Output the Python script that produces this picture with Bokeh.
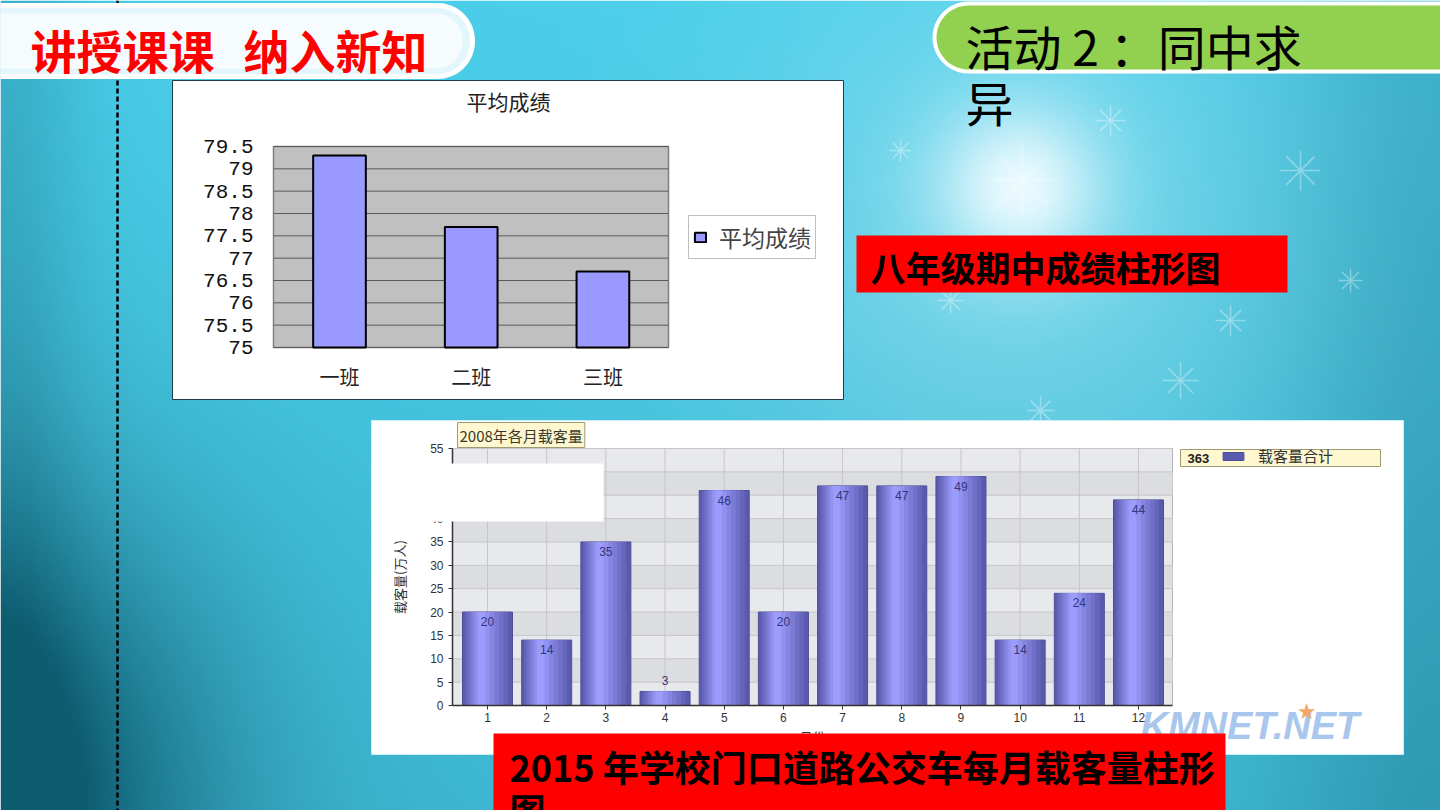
import numpy as np
from bokeh.plotting import figure
from bokeh.models import (Range1d, FixedTicker, Legend, LegendItem, LinearAxis,
                          ColumnDataSource, Label)
from bokeh.transform import dodge
from bokeh.core.properties import value
from bokeh.embed import file_html
from bokeh.resources import INLINE

CJK = "Noto Sans CJK SC"

# ---------------- data ----------------
banner_left = ["讲授课课", "纳入新知"]
banner_right = "活动 2 ：同中求"
banner_right_2 = "异"
caption_1 = "八年级期中成绩柱形图"
caption_2 = "2015 年学校门口道路公交车每月载客量柱形"
caption_2b = "图"

chart1_title = "平均成绩"
series1_name = "平均成绩"
classes = ["一班", "二班", "三班"]
avg_scores = [79.3, 77.7, 76.7]
score_ticks = [75, 75.5, 76, 76.5, 77, 77.5, 78, 78.5, 79, 79.5]
score_tick_labels = ["75", "75.5", "76", "76.5", "77", "77.5", "78", "78.5", "79", "79.5"]

chart2_title = "2008年各月载客量"
series2_name = "载客量合计"
months = [1, 2, 3, 4, 5, 6, 7, 8, 9, 10, 11, 12]
riders = [20, 14, 35, 3, 46, 20, 47, 47, 49, 14, 24, 44]
rider_ticks = [0, 5, 10, 15, 20, 25, 30, 35, 40, 45, 50, 55]
y2_label = "载客量(万人)"
x2_label = "月份"
watermark = "KMNET.NET"

# ---------------- page canvas (pixel coordinates of the slide) ----------------
X0, X1, Y0, Y1 = 0, 1440, 0, 810
p = figure(width=X1 - X0, height=Y1 - Y0, x_range=Range1d(X0, X1), y_range=Range1d(Y1, Y0),
           toolbar_location=None, output_backend="svg", min_border=0,
           x_axis_location=None, y_axis_location=None, outline_line_color=None)
p.xgrid.visible = False
p.ygrid.visible = False


def axis_range(px_a, val_a, px_b, val_b, lo_px, hi_px):
    k = (val_b - val_a) / (px_b - px_a)
    return Range1d(start=val_a + (lo_px - px_a) * k, end=val_a + (hi_px - px_a) * k)


def rounded(x0, y0, x1, y1, r, n=14):
    pts = []
    corners = [(x1 - r, y0 + r, -90, 0), (x1 - r, y1 - r, 0, 90),
               (x0 + r, y1 - r, 90, 180), (x0 + r, y0 + r, 180, 270)]
    for cx, cy, a0, a1 in corners:
        for t in np.linspace(np.radians(a0), np.radians(a1), n):
            pts.append((cx + r * np.cos(t), cy + r * np.sin(t)))
    return [q[0] for q in pts], [q[1] for q in pts]


# chart placement on the slide (pixels)
C1_BOX = (172, 843, 80, 399)
C1_PLOT = (273, 668, 146, 347)
C2_BOX = (371, 1403, 420, 754)
C2_PLOT = (452, 1172, 448, 705)

idx = list(range(len(classes)))
p.extra_x_ranges = {
    "c1x": axis_range(339, 0, 470.7, 1, X0, X1),
    "c2x": axis_range(487, months[0], 1138, months[-1], X0, X1),
}
p.extra_y_ranges = {
    "c1y": axis_range(C1_PLOT[3], 75, C1_PLOT[2], 79.5, Y1, Y0),
    "c2y": axis_range(C2_PLOT[3], 0, C2_PLOT[2], 55, Y1, Y0),
}


def c1x(px):
    r = p.extra_x_ranges["c1x"]
    return r.start + (px - X0) * (r.end - r.start) / (X1 - X0)


def c2x(px):
    r = p.extra_x_ranges["c2x"]
    return r.start + (px - X0) * (r.end - r.start) / (X1 - X0)


# ---------------- background ----------------
nx, ny = 360, 203
gx = np.linspace(0, 1440, nx)
gy = np.linspace(0, 810, ny)
GX, GY = np.meshgrid(gx, gy)
light = np.array([74.0, 206.0, 233.0])
dark = np.array([14.0, 92.0, 112.0])
d = (0.85 * np.exp(-(((GX + 10) / 230) ** 2 + ((GY - 800) / 300) ** 2))
     + 0.2 * (GY / 810)
     + 0.25 * np.exp(-((GX - 1440) / 160) ** 2)
     + 0.25 * np.exp(-(GX / 80) ** 2))
d = np.clip(d, 0, 1)[..., None]
col = light * (1 - d) + dark * d
g = (0.7 * np.exp(-(((GX - 1020) ** 2 + (GY - 185) ** 2) / (2 * 60 ** 2)))
     + 0.3 * np.exp(-(((GX - 1010) ** 2 + (GY - 230) ** 2) / (2 * 200 ** 2))))
g = np.clip(g, 0, 1)[..., None]
col = col * (1 - g) + np.array([235.0, 250.0, 255.0]) * g
img = np.empty((ny, nx), dtype=np.uint32)
view = img.view(dtype=np.uint8).reshape((ny, nx, 4))
view[..., 0:3] = np.clip(col, 0, 255).astype(np.uint8)
view[..., 3] = 255
p.image_rgba(image=[img], x=0, y=0, dw=1440, dh=810)

p.scatter(x=[1022, 1300, 1110, 1180, 1040, 950, 1230, 1350, 900],
          y=[180, 170, 120, 380, 410, 300, 320, 280, 150],
          size=[70, 40, 30, 36, 28, 26, 30, 24, 22], marker="asterisk",
          line_color="white", line_alpha=0.35, line_width=1.5)

p.line(x=[117, 117], y=[0, 810], line_color="black", line_width=2.5, line_dash="5 3")

xs, ys = rounded(-40, 5, 472, 76, 35)
p.patch(xs, ys, fill_color="#E2F6FC", line_color="white", line_width=5)
xs, ys = rounded(-40, 13, 462, 68, 27)
p.patch(xs, ys, fill_color="#F6FCFE", line_color=None)
p.text(x=[30, 243], y=[48, 48], text=banner_left, text_font=value(CJK), text_font_style="bold",
       text_font_size="46px", text_color="#FF0000", text_baseline="middle")

xs, ys = rounded(934, 3, 1480, 71, 34)
p.patch(xs, ys, fill_color="#92D050", line_color="white", line_width=4)
p.text(x=[965, 965], y=[44, 100], text=[banner_right, banner_right_2], text_font=value(CJK),
       text_font_size="48px", text_color="black", text_baseline="middle")

p.quad(left=[856], right=[1287], top=[235], bottom=[292], fill_color="#FF0000", line_color=None)
p.text(x=[870], y=[266], text=[caption_1], text_font=value(CJK), text_font_style="bold",
       text_font_size="35px", text_color="black", text_baseline="middle")

# ---------------- chart 1 ----------------
p.quad(left=[C1_BOX[0]], right=[C1_BOX[1]], top=[C1_BOX[2]], bottom=[C1_BOX[3]],
       fill_color="white", line_color="#1C3C46", line_width=1)
p.quad(left=[C1_PLOT[0]], right=[C1_PLOT[1]], top=[C1_PLOT[2]], bottom=[C1_PLOT[3]],
       fill_color="#C0C0C0", line_color="#808080", line_width=1.5)
lo1, hi1 = c1x(C1_PLOT[0]), c1x(C1_PLOT[1])
p.segment(x0=[lo1] * len(score_ticks), x1=[hi1] * len(score_ticks), y0=score_ticks, y1=score_ticks,
          line_color="#5A5A5A", line_width=1, x_range_name="c1x", y_range_name="c1y")
src1 = ColumnDataSource(dict(i=idx, cls=classes, score=avg_scores))
bars1 = p.vbar(x="i", top="score", bottom=75, width=0.4, source=src1,
               fill_color="#9999FF", line_color="black", line_width=2,
               x_range_name="c1x", y_range_name="c1y")
p.text(x=[508], y=[100], text=[chart1_title], text_font=value(CJK), text_font_size="21px",
       text_color="#222222", text_align="center", text_baseline="middle")

ax1y = LinearAxis(x_range_name="c1x", y_range_name="c1y", fixed_location=lo1, bounds=(75, 79.5),
                  ticker=FixedTicker(ticks=score_ticks),
                  major_label_overrides=dict(zip(score_ticks, score_tick_labels)),
                  axis_line_color=None, major_tick_line_color=None, minor_tick_line_color=None,
                  major_label_standoff=14, major_label_text_font="Liberation Mono",
                  major_label_text_font_size="21px", major_label_text_color="#111111")
p.add_layout(ax1y, "left")
ax1x = LinearAxis(x_range_name="c1x", y_range_name="c1y", fixed_location=75, bounds=(lo1, hi1),
                  ticker=FixedTicker(ticks=idx), major_label_overrides=dict(zip(idx, classes)),
                  axis_line_color=None, major_tick_line_color=None, minor_tick_line_color=None,
                  major_label_standoff=8, major_label_text_font=CJK,
                  major_label_text_font_size="20px", major_label_text_color="#222222")
p.add_layout(ax1x, "below")

leg1 = Legend(items=[LegendItem(label=series1_name, renderers=[bars1])],
              location=(688 - X0, Y1 - 259),
              border_line_color="#808080", border_line_width=1, background_fill_color="white",
              background_fill_alpha=1, padding=4, spacing=0, glyph_width=14, glyph_height=12,
              label_standoff=12, label_text_font=CJK, label_text_font_size="23px",
              label_height=16, margin=0)
p.add_layout(leg1)

# ---------------- chart 2 ----------------
p.quad(left=[C2_BOX[0]], right=[C2_BOX[1]], top=[C2_BOX[2]], bottom=[C2_BOX[3]],
       fill_color="white", line_color="#CDEFF6", line_width=1)
p.quad(left=[C2_PLOT[0]], right=[C2_PLOT[1]], top=[C2_PLOT[2]], bottom=[C2_PLOT[3]],
       fill_color="#E8E9EC", line_color="#B4B4B8", line_width=1)
lo2, hi2 = c2x(C2_PLOT[0]), c2x(C2_PLOT[1])
band_lo = rider_ticks[1:-1:2]
p.quad(left=[lo2] * len(band_lo), right=[hi2] * len(band_lo), bottom=band_lo,
       top=[t + 5 for t in band_lo], fill_color="#DCDDE1", line_color=None,
       x_range_name="c2x", y_range_name="c2y")
p.segment(x0=[lo2] * len(rider_ticks), x1=[hi2] * len(rider_ticks), y0=rider_ticks, y1=rider_ticks,
          line_color="#C6C6CA", line_width=1, x_range_name="c2x", y_range_name="c2y")
p.segment(x0=months, x1=months, y0=[0] * len(months), y1=[55] * len(months),
          line_color="#C6C6CA", line_width=1, x_range_name="c2x", y_range_name="c2y")

src2 = ColumnDataSource(dict(month=months, riders=riders))
bars2 = p.vbar(x="month", top="riders", bottom=0, width=0.845, source=src2,
               fill_color="#5A5AAE", line_color="#4E4E98", line_width=1,
               x_range_name="c2x", y_range_name="c2y")
edge_rgb, mid_rgb = np.array([90, 90, 174]), np.array([156, 156, 253])
n_layers = 6
for k in range(1, n_layers + 1):
    f = k / n_layers
    rgb = (edge_rgb * (1 - f) + mid_rgb * f).astype(int)
    p.vbar(x=dodge("month", -0.1 * f), top="riders", bottom=0, width=0.845 * (1 - 0.85 * f),
           source=src2, fill_color="#%02x%02x%02x" % tuple(rgb), line_color=None,
           x_range_name="c2x", y_range_name="c2y")

inside = [(m, v) for m, v in zip(months, riders) if v >= 8]
above = [(m, v) for m, v in zip(months, riders) if v < 8]
p.text(x=[m for m, v in inside], y=[v for m, v in inside], text=[str(v) for m, v in inside],
       text_align="center", text_baseline="top", y_offset=5, text_font=value("Liberation Sans"),
       text_font_size="12px", text_color="#34347E", x_range_name="c2x", y_range_name="c2y")
p.text(x=[m for m, v in above], y=[v for m, v in above], text=[str(v) for m, v in above],
       text_align="center", text_baseline="bottom", y_offset=-6, text_font=value("Liberation Sans"),
       text_font_size="12px", text_color="#34347E", x_range_name="c2x", y_range_name="c2y")

common = dict(axis_line_color="#333333", axis_line_width=1.5, major_tick_line_color="#333333",
              major_tick_out=4, major_tick_in=0, minor_tick_line_color=None,
              major_label_text_font="Liberation Sans", major_label_text_font_size="12px",
              major_label_text_color="#333333", axis_label_text_font=CJK,
              axis_label_text_font_size="13px", axis_label_text_font_style="normal",
              axis_label_text_color="#333333")
ax2y = LinearAxis(x_range_name="c2x", y_range_name="c2y", fixed_location=lo2, bounds=(0, 55),
                  ticker=FixedTicker(ticks=rider_ticks), major_label_standoff=5,
                  axis_label=y2_label, axis_label_standoff=18, **common)
p.add_layout(ax2y, "left")
ax2x = LinearAxis(x_range_name="c2x", y_range_name="c2y", fixed_location=0, bounds=(lo2, hi2),
                  ticker=FixedTicker(ticks=months), major_label_standoff=3,
                  axis_label=x2_label, axis_label_standoff=2, **common)
p.add_layout(ax2x, "below")

# chart-2 tags
p.add_layout(Label(x=457, y=447, text=chart2_title, text_baseline="bottom", text_font=CJK,
                   text_font_size="15px", text_color="#3A3A2A", background_fill_color="#FFF7CF",
                   border_line_color="#A09A70", padding=2))
p.quad(left=[1180], right=[1380], top=[449], bottom=[466], fill_color="#FFF7CF",
       line_color="#A09A70", line_width=1)
p.text(x=[1187], y=[457.5], text=[str(sum(riders))], text_baseline="middle",
       text_font=value("Liberation Sans"), text_font_style="bold", text_font_size="13px",
       text_color="#222222")
leg2 = Legend(items=[LegendItem(label=series2_name, renderers=[bars2])],
              location=(1220 - X0, Y1 - 466),
              border_line_color=None, background_fill_alpha=0, padding=2, spacing=0,
              glyph_width=26, glyph_height=10, label_standoff=12, label_text_font=CJK,
              label_text_font_size="15px", label_height=14, label_text_color="#333333", margin=0)
p.add_layout(leg2)

p.text(x=[1140], y=[746], text=[watermark], text_baseline="bottom",
       text_font=value("Liberation Sans"), text_font_style="bold italic", text_font_size="38px",
       text_color="#A9C6EC")
p.text(x=[1306], y=[711], text=["★"], text_align="center", text_baseline="middle",
       text_font=value("DejaVu Sans"), text_font_size="22px", text_color="#F0A868")

# ---------------- overlays (above axes) ----------------
cov = p.quad(left=[371], right=[603], top=[463], bottom=[521], fill_color="white", line_color=None)
cov.level = "overlay"
rbox = p.quad(left=[493], right=[1225], top=[733], bottom=[812], fill_color="#FF0000", line_color=None)
rbox.level = "overlay"
rtxt = p.text(x=[509, 509], y=[765, 808], text=[caption_2, caption_2b], text_font=value(CJK),
              text_font_style="bold", text_font_size="36px", text_color="black",
              text_baseline="middle")
rtxt.level = "overlay"

open("out.html", "w").write(file_html(p, INLINE, title="chart"))
